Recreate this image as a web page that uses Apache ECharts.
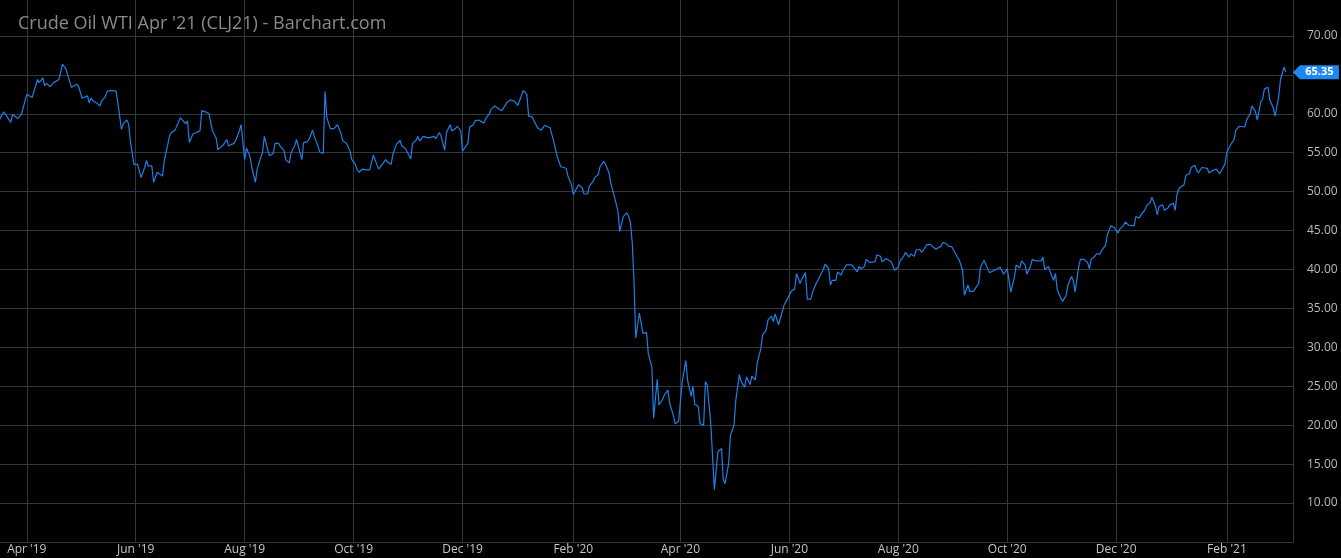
<!DOCTYPE html>
<html><head><meta charset="utf-8">
<script src="https://cdn.jsdelivr.net/npm/echarts@6/dist/echarts.min.js"></script>
<style>html,body{margin:0;padding:0;background:#000;}#c{width:1341px;height:558px;}</style>
</head><body><div id="c"></div>
<script>
const titleText = "Crude Oil WTI Apr '21 (CLJ21) - Barchart.com";
const axisStart = [2019, 3, 17];
const axisEnd = [2021, 3, 10];
const tickDates = ['2019-04-01','2019-06-01','2019-08-01','2019-10-01','2019-12-01','2020-02-01','2020-04-01','2020-06-01','2020-08-01','2020-10-01','2020-12-01','2021-02-01'];
const monthNames = ['Jan','Feb','Mar','Apr','May','Jun','Jul','Aug','Sep','Oct','Nov','Dec'];
const yMin = 5, yMax = 75, yStep = 5, yLabelMin = 10, yLabelMax = 70;
const lastPrice = 65.35;

const prices2019 = [
['2019-03-17',59.3],['2019-03-19',60.25],['2019-03-20',59.95],['2019-03-23',58.9],['2019-03-24',59.9],['2019-03-27',59.4],['2019-03-29',59.95],
['2019-04-01',62.5],['2019-04-04',62.1],['2019-04-07',64.4],['2019-04-08',64.0],['2019-04-10',64.6],['2019-04-11',63.6],['2019-04-12',63.9],['2019-04-14',63.5],['2019-04-16',64.0],['2019-04-17',64.0],['2019-04-19',64.4],['2019-04-21',66.4],['2019-04-23',65.7],['2019-04-26',63.4],['2019-04-27',63.5],['2019-04-29',63.8],['2019-04-30',63.5],
['2019-05-02',62.0],['2019-05-03',62.1],['2019-05-05',62.3],['2019-05-06',61.4],['2019-05-07',62.0],['2019-05-08',61.7],['2019-05-10',61.4],['2019-05-12',61.0],['2019-05-13',61.7],['2019-05-15',62.2],['2019-05-16',62.9],['2019-05-18',63.0],['2019-05-19',63.2],['2019-05-21',62.9],['2019-05-22',61.4],['2019-05-24',58.0],['2019-05-25',58.7],['2019-05-27',59.2],['2019-05-28',58.7],['2019-05-29',56.5],['2019-05-31',53.5],
['2019-06-01',53.3],['2019-06-02',53.5],['2019-06-04',51.8],['2019-06-06',53.1],['2019-06-07',54.0],['2019-06-08',53.3],['2019-06-10',53.3],['2019-06-11',51.2],['2019-06-13',52.5],['2019-06-14',52.7],['2019-06-16',52.0],['2019-06-17',54.0],['2019-06-18',54.0],['2019-06-20',57.2],['2019-06-21',57.6],['2019-06-23',57.9],['2019-06-24',57.9],['2019-06-26',59.5],['2019-06-27',59.4],['2019-06-29',58.7],['2019-06-30',59.1],
['2019-07-01',56.3],['2019-07-03',57.4],['2019-07-05',57.6],['2019-07-07',57.8],['2019-07-08',60.4],['2019-07-10',60.25],['2019-07-12',60.0],['2019-07-14',57.8],['2019-07-16',56.9],['2019-07-17',55.4],['2019-07-20',56.0],['2019-07-22',56.7],['2019-07-23',55.9],['2019-07-26',56.2],['2019-07-27',56.6],['2019-07-29',57.8],['2019-07-30',58.6],
['2019-08-01',54.1],['2019-08-02',55.6],['2019-08-04',54.5],['2019-08-05',53.1],['2019-08-07',51.2],['2019-08-08',52.9],['2019-08-10',54.4],['2019-08-11',55.0],['2019-08-12',57.1],['2019-08-14',55.3],['2019-08-15',54.6],['2019-08-17',54.9],['2019-08-18',56.2],['2019-08-20',56.2],['2019-08-21',55.8],['2019-08-23',55.3],['2019-08-24',54.1],['2019-08-26',53.7],['2019-08-27',55.0],['2019-08-29',55.9],['2019-08-30',56.7],
['2019-09-01',55.0],['2019-09-02',54.1],['2019-09-03',56.3],['2019-09-05',56.4],['2019-09-06',56.7],['2019-09-08',57.9],['2019-09-09',57.1],['2019-09-11',55.9],['2019-09-12',55.1],['2019-09-14',54.9],['2019-09-15',62.9],['2019-09-16',59.5],['2019-09-18',58.1],['2019-09-20',58.1],['2019-09-21',58.2],['2019-09-22',58.6],['2019-09-24',57.4],['2019-09-25',56.5],['2019-09-27',56.2],['2019-09-29',55.2],['2019-09-30',54.1],
['2019-10-02',53.5],['2019-10-03',52.8],['2019-10-04',52.5],['2019-10-06',52.9],['2019-10-08',52.8],['2019-10-10',52.8],['2019-10-12',54.7],['2019-10-14',53.5],['2019-10-15',52.9],['2019-10-17',53.5],['2019-10-19',54.1],['2019-10-20',53.8],['2019-10-22',53.5],['2019-10-23',54.8],['2019-10-25',56.1],['2019-10-27',56.6],['2019-10-28',55.9],['2019-10-30',55.5],['2019-10-31',55.1],
['2019-11-02',54.2],['2019-11-03',56.2],['2019-11-05',56.6],['2019-11-06',57.1],['2019-11-07',56.5],['2019-11-09',57.1],['2019-11-10',57.2],['2019-11-12',56.9],['2019-11-13',56.8],['2019-11-15',57.1],['2019-11-16',56.8],['2019-11-18',57.6],['2019-11-19',57.1],['2019-11-21',55.3],['2019-11-22',57.6],['2019-11-24',58.6],['2019-11-25',57.8],['2019-11-27',58.1],['2019-11-28',58.4],['2019-11-30',57.8],
['2019-12-01',55.2],['2019-12-03',55.9],['2019-12-04',56.2],['2019-12-05',58.3],['2019-12-07',58.6],['2019-12-08',59.1],['2019-12-10',59.2],['2019-12-11',59.2],['2019-12-13',58.8],['2019-12-14',59.4],['2019-12-16',60.0],['2019-12-17',60.6],['2019-12-19',61.0],['2019-12-20',61.1],['2019-12-23',60.4],['2019-12-26',61.5],['2019-12-28',61.8],['2019-12-30',61.6]
];

const prices2020 = [
['2020-01-01',61.1],['2020-01-02',61.3],['2020-01-04',63.0],['2020-01-05',63.1],['2020-01-06',62.5],['2020-01-07',59.7],['2020-01-09',59.6],['2020-01-10',59.1],['2020-01-12',58.2],['2020-01-13',58.2],['2020-01-14',57.9],['2020-01-16',58.5],['2020-01-17',58.6],['2020-01-19',58.2],['2020-01-21',56.5],['2020-01-23',54.5],['2020-01-25',53.2],['2020-01-26',53.3],['2020-01-28',53.0],['2020-01-29',52.0],['2020-01-31',50.9],
['2020-02-01',49.6],['2020-02-03',50.5],['2020-02-04',50.9],['2020-02-06',50.5],['2020-02-07',49.7],['2020-02-09',49.7],['2020-02-10',50.7],['2020-02-12',51.3],['2020-02-13',51.8],['2020-02-15',52.2],['2020-02-16',53.2],['2020-02-18',53.9],['2020-02-19',53.6],['2020-02-21',52.4],['2020-02-22',51.1],['2020-02-24',49.4],['2020-02-26',47.5],['2020-02-27',44.9],['2020-02-29',46.8],
['2020-03-02',47.3],['2020-03-03',46.8],['2020-03-04',46.0],['2020-03-05',43.5],['2020-03-06',38.5],['2020-03-07',31.2],['2020-03-09',34.4],['2020-03-10',33.1],['2020-03-11',31.8],['2020-03-13',31.9],['2020-03-14',29.2],['2020-03-16',27.5],['2020-03-17',20.9],['2020-03-19',25.9],['2020-03-20',22.6],['2020-03-22',23.3],['2020-03-23',23.9],['2020-03-25',24.5],['2020-03-26',22.8],['2020-03-28',21.3],['2020-03-29',20.2],['2020-03-31',20.5],
['2020-04-01',20.3],['2020-04-02',25.6],['2020-04-04',28.3],['2020-04-05',25.8],['2020-04-07',23.7],['2020-04-08',25.0],['2020-04-09',22.7],['2020-04-11',22.4],['2020-04-12',20.2],['2020-04-14',20.0],['2020-04-15',25.6],['2020-04-16',25.2],['2020-04-18',20.2],['2020-04-20',11.7],['2020-04-21',14.2],['2020-04-22',16.6],['2020-04-24',17.0],['2020-04-25',13.0],['2020-04-26',12.5],['2020-04-28',15.1],['2020-04-29',18.7],
['2020-05-01',20.0],['2020-05-02',23.2],['2020-05-04',26.5],['2020-05-05',25.6],['2020-05-07',24.9],['2020-05-08',26.2],['2020-05-10',25.2],['2020-05-11',26.3],['2020-05-13',25.8],['2020-05-14',28.0],['2020-05-16',29.8],['2020-05-17',31.6],['2020-05-19',32.2],['2020-05-20',33.5],['2020-05-22',34.0],['2020-05-23',33.3],['2020-05-24',34.3],['2020-05-26',32.9],['2020-05-27',33.8],['2020-05-29',35.4],['2020-05-30',35.4],
['2020-06-01',36.7],['2020-06-02',37.2],['2020-06-04',37.5],['2020-06-05',39.5],['2020-06-07',38.2],['2020-06-08',38.8],['2020-06-10',39.6],['2020-06-11',36.2],['2020-06-13',36.2],['2020-06-14',37.1],['2020-06-16',38.2],['2020-06-17',38.4],['2020-06-18',39.1],['2020-06-20',40.0],['2020-06-21',40.7],['2020-06-23',40.1],['2020-06-24',38.0],['2020-06-25',38.6],['2020-06-27',38.6],['2020-06-28',39.7],['2020-06-30',39.3],
['2020-07-01',39.9],['2020-07-03',40.6],['2020-07-04',40.6],['2020-07-06',40.6],['2020-07-07',40.8],['2020-07-09',39.7],['2020-07-10',40.4],['2020-07-11',40.1],['2020-07-13',40.4],['2020-07-14',41.3],['2020-07-16',40.9],['2020-07-17',40.7],['2020-07-19',41.0],['2020-07-20',41.9],['2020-07-22',41.7],['2020-07-23',41.0],['2020-07-25',41.4],['2020-07-26',41.6],['2020-07-28',41.0],['2020-07-29',40.9],['2020-07-30',39.9],
['2020-08-01',40.3],['2020-08-02',41.1],['2020-08-04',41.7],['2020-08-05',42.2],['2020-08-07',41.6],['2020-08-08',42.0],['2020-08-10',41.7],['2020-08-11',42.5],['2020-08-13',42.6],['2020-08-14',42.2],['2020-08-15',42.5],['2020-08-17',43.2],['2020-08-19',43.2],['2020-08-20',43.0],['2020-08-22',42.6],['2020-08-23',42.5],['2020-08-25',43.0],['2020-08-26',43.5],['2020-08-28',43.3],['2020-08-29',43.0],['2020-08-31',42.9],
['2020-09-01',42.7],['2020-09-03',41.6],['2020-09-04',41.3],['2020-09-06',39.9],['2020-09-07',36.7],['2020-09-09',38.0],['2020-09-10',37.2],['2020-09-12',37.2],['2020-09-13',37.2],['2020-09-15',38.2],['2020-09-16',40.3],['2020-09-18',41.2],['2020-09-19',41.2],['2020-09-21',39.6],['2020-09-22',39.7],['2020-09-24',39.9],['2020-09-25',40.1],['2020-09-27',40.3],['2020-09-28',40.4],['2020-09-29',39.4],
['2020-10-01',40.1],['2020-10-02',38.6],['2020-10-03',37.1],['2020-10-05',39.0],['2020-10-06',40.6],['2020-10-08',40.2],['2020-10-09',41.1],['2020-10-11',40.6],['2020-10-12',39.4],['2020-10-14',40.4],['2020-10-15',41.3],['2020-10-17',41.1],['2020-10-18',41.1],['2020-10-20',41.1],['2020-10-21',41.6],['2020-10-22',40.0],['2020-10-24',40.4],['2020-10-25',39.7],['2020-10-27',38.6],['2020-10-28',39.5],['2020-10-29',37.4],['2020-10-31',36.3],
['2020-11-01',35.9],['2020-11-03',36.7],['2020-11-04',38.0],['2020-11-06',39.1],['2020-11-07',38.6],['2020-11-08',37.1],['2020-11-10',40.4],['2020-11-11',41.3],['2020-11-13',41.3],['2020-11-15',40.9],['2020-11-16',40.1],['2020-11-17',41.3],['2020-11-19',41.7],['2020-11-20',42.0],['2020-11-22',42.0],['2020-11-23',42.5],['2020-11-25',43.1],['2020-11-26',44.4],['2020-11-28',45.6],['2020-11-29',45.6],['2020-11-30',45.4],
['2020-12-02',44.7],['2020-12-03',45.2],['2020-12-05',45.6],['2020-12-06',46.1],['2020-12-08',45.7],['2020-12-09',45.5],['2020-12-11',45.6],['2020-12-12',46.8],['2020-12-14',46.6],['2020-12-15',47.1],['2020-12-17',47.6],['2020-12-18',48.2],['2020-12-20',48.6],['2020-12-21',49.3],['2020-12-23',48.1],['2020-12-24',47.0],['2020-12-25',48.1],['2020-12-27',48.3],['2020-12-28',47.6],['2020-12-30',47.9],['2020-12-31',48.3]
];

const prices2021 = [
['2021-01-02',48.5],['2021-01-03',47.6],['2021-01-04',49.6],['2021-01-05',50.3],['2021-01-06',50.6],['2021-01-08',50.9],['2021-01-09',52.1],['2021-01-11',52.3],['2021-01-12',53.1],['2021-01-13',53.0],['2021-01-14',53.4],['2021-01-15',52.8],['2021-01-16',52.4],['2021-01-18',53.1],['2021-01-19',53.3],['2021-01-21',53.0],['2021-01-22',52.4],['2021-01-24',52.7],['2021-01-25',52.7],['2021-01-26',52.9],['2021-01-28',52.3],['2021-01-29',52.1],['2021-01-31',53.6],
['2021-02-01',55.1],['2021-02-03',56.0],['2021-02-05',56.7],['2021-02-06',57.9],['2021-02-08',58.4],['2021-02-09',58.6],['2021-02-11',58.3],['2021-02-12',59.2],['2021-02-14',60.0],['2021-02-15',61.0],['2021-02-17',60.3],['2021-02-18',59.2],['2021-02-20',61.6],['2021-02-21',61.9],['2021-02-22',63.2],['2021-02-24',63.4],['2021-02-25',61.8],['2021-02-27',60.7],['2021-02-28',59.7],
['2021-03-02',62.2],['2021-03-03',64.4],['2021-03-05',66.0],['2021-03-06',65.35]
];

// calendar-day categories
const categories = [];
for (let t = Date.UTC(axisStart[0], axisStart[1]-1, axisStart[2]); t <= Date.UTC(axisEnd[0], axisEnd[1]-1, axisEnd[2]); t += 86400000) {
  categories.push(new Date(t).toISOString().slice(0, 10));
}
const catIndex = {};
categories.forEach((c, i) => { catIndex[c] = i; });
const allPrices = prices2019.concat(prices2020, prices2021);
const lineData = allPrices.map(([d, v]) => [catIndex[d], v]);
const lastPoint = allPrices[allPrices.length - 1];
const tickSet = new Set(tickDates);
const isTick = (i, v) => tickSet.has(v);
const fmtMonth = (v) => { const p = v.split('-'); return monthNames[+p[1]-1] + " '" + p[0].slice(2); };

const gridColor = '#33383c';
const chart = echarts.init(document.getElementById('c'), null, {renderer: 'canvas'});
chart.setOption({
  backgroundColor: '#000000',
  animation: false,
  title: {
    text: titleText, left: 13, top: 10,
    textStyle: {color: '#8a8a8a', fontSize: 18, fontWeight: 'normal', fontFamily: 'Open Sans'}
  },
  grid: {left: 0, right: 48, top: -3, bottom: 16, containLabel: false, outerBoundsMode: 'none'},
  xAxis: {
    type: 'category', data: categories, boundaryGap: false,
    axisLine: {show: true, lineStyle: {color: gridColor}},
    axisTick: {show: false},
    axisLabel: {interval: isTick, formatter: fmtMonth, color: '#c4c4c4', fontSize: 12, fontFamily: 'Open Sans', margin: 2},
    splitLine: {show: true, interval: isTick, lineStyle: {color: gridColor, width: 1}}
  },
  yAxis: {
    type: 'value', position: 'right', min: yMin, max: yMax, interval: yStep,
    axisLine: {show: true, lineStyle: {color: gridColor}},
    axisTick: {show: false},
    axisLabel: {
      margin: 14, color: '#b8b8b8', fontSize: 12, fontFamily: 'Open Sans',
      formatter: (v) => (v < yLabelMin || v > yLabelMax) ? '' : v.toFixed(2)
    },
    splitLine: {show: true, lineStyle: {color: gridColor, width: 1}}
  },
  series: [{
    type: 'line', data: lineData, showSymbol: false, symbol: 'none',
    lineStyle: {color: '#1f7fe6', width: 1.2},
    markPoint: {
      silent: true,
      symbol: 'path://M0,6.5 L7,0 L46,0 L46,13 L7,13 Z',
      symbolSize: [46, 14],
      symbolOffset: [30, 0],
      itemStyle: {color: '#1e88f0'},
      label: {show: true, position: 'inside', offset: [3.5, 0], color: '#ffffff', fontSize: 11, fontWeight: 'bold', fontFamily: 'Open Sans',
        formatter: () => lastPrice.toFixed(2)},
      data: [{coord: [catIndex[lastPoint[0]], lastPrice]}]
    }
  }]
});
</script></body></html>
